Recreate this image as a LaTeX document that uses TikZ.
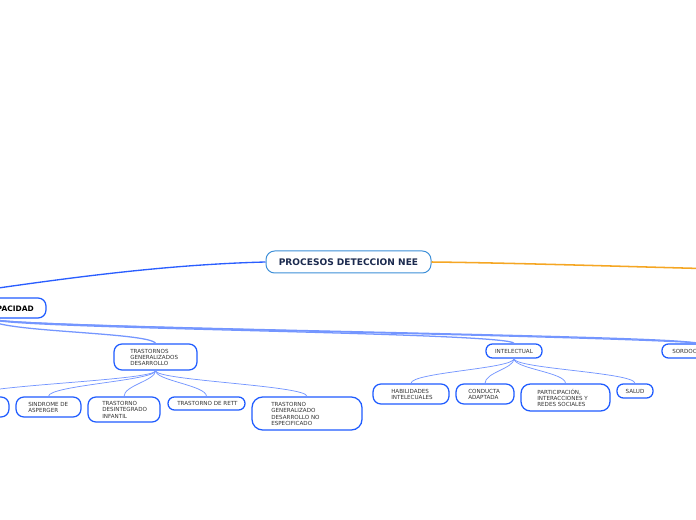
\documentclass[tikz,border=0pt]{standalone}
\usepackage{fontspec}
\setmainfont{DejaVu Sans}
\definecolor{boxblue}{HTML}{1F5CFF}
\definecolor{mainblue}{HTML}{3D8FD8}
\definecolor{linkblue}{HTML}{2A5EFF}
\definecolor{sublink}{HTML}{7496FF}
\definecolor{orangeln}{HTML}{F5A623}
\definecolor{txt}{HTML}{333333}
\definecolor{maintxt}{HTML}{1B2A4E}
\newcommand\pxu{0.75pt}
\begin{document}
\begin{tikzpicture}[x=0.75pt,y=-0.75pt,
  box/.style={draw=boxblue, line width=0.95pt, rounded corners=6pt, fill=white, inner sep=0pt},
  boxs/.style={box, rounded corners=4.8pt},
  mainbox/.style={draw=mainblue, line width=0.75pt, rounded corners=6.5pt, fill=white, inner sep=0pt},
  lbl/.style={inner sep=0pt, align=left, text=txt, font=\fontsize{4.2pt}{4.75pt}\selectfont},
  mainlbl/.style={inner sep=0pt, text=maintxt, font=\fontsize{6.8pt}{8pt}\selectfont\bfseries},
  disclbl/.style={inner sep=0pt, text=black, font=\fontsize{5.6pt}{7pt}\selectfont\bfseries},
  toplink/.style={draw=linkblue, line width=1pt},
  dlink/.style={draw=sublink, line width=0.95pt},
  slink/.style={draw=sublink, line width=0.55pt}]
\useasboundingbox (0,0) rectangle (696,520);
\clip (0,0) rectangle (696,520);
\fill[white] (0,0) rectangle (696,520);

% connector free ends
\coordinate (offr) at (730,346);
\coordinate (offo) at (720,269);

% nodes
\node[mainbox, minimum width=165*\pxu, minimum height=22*\pxu] (main) at (348.5,262) {};
\node[box, minimum width=112*\pxu, minimum height=20*\pxu] (disc) at (-10,308) {};
\node[box, minimum width=83*\pxu, minimum height=26*\pxu] (tgd) at (155.5,357) {};
\node[boxs, minimum width=56*\pxu, minimum height=14*\pxu] (intel) at (514,351) {};
\node[boxs, minimum width=66*\pxu, minimum height=14*\pxu] (sordo) at (695,351) {};
\node[box, minimum width=78*\pxu, minimum height=20*\pxu] (offl) at (-30,407) {};
\node[box, minimum width=65*\pxu, minimum height=20*\pxu] (asp) at (48.5,407) {};
\node[box, minimum width=72*\pxu, minimum height=25*\pxu] (tdi) at (124,409.5) {};
\node[boxs, minimum width=77*\pxu, minimum height=13*\pxu] (rett) at (206.5,403.5) {};
\node[box, rounded corners=8pt, minimum width=110*\pxu, minimum height=33*\pxu] (tgdne) at (307,413.5) {};
\node[box, minimum width=76*\pxu, minimum height=20*\pxu] (hab) at (411,394) {};
\node[box, minimum width=58*\pxu, minimum height=20*\pxu] (cond) at (485,394) {};
\node[box, rounded corners=7pt, minimum width=89*\pxu, minimum height=27*\pxu] (part) at (565.5,397.5) {};
\node[boxs, minimum width=36*\pxu, minimum height=14*\pxu] (salud) at (635,391) {};

% connectors
\draw[draw=orangeln, line width=1.15pt] (main.east) .. controls (520,263) and (640,267) .. (offo);
\draw[toplink] (main.west) .. controls (150,265) and (40,282) .. (disc.north west);

\draw[dlink] (disc.south) .. controls (-10,332) and (150,332) .. (tgd.north);
\draw[dlink] (disc.south) .. controls (-10,329) and (510,332) .. (intel.north);
\draw[dlink] (disc.south) .. controls (-10,328) and (690,335) .. (sordo.north);
\draw[dlink] (disc.south) .. controls (-10,328) and (700,336) .. (offr);

\foreach \c in {offl,asp,tdi,rett,tgdne}
  \draw[slink] (tgd.south) .. controls +(0,10) and +(0,-11) .. (\c.north);
\foreach \c in {hab,cond,part,salud}
  \draw[slink] (intel.south) .. controls +(0,10) and +(0,-11) .. (\c.north);

% texts
\node[mainlbl] (mainT) at (348.5,262.5) {PROCESOS DETECCION NEE};
\node[disclbl, anchor=east] (discT) at (34,308.5) {DISCAPACIDAD};
\node[lbl, anchor=west] (tgdT) at (130,357.5) {TRASTORNOS\\GENERALIZADOS\\DESARROLLO};
\node[lbl] (intelT) at (514,351.3) {INTELECTUAL};
\node[lbl, anchor=west] (sordoT) at (672,351.3) {SORDOCEGUERA};
\node[lbl, anchor=west] (aspT) at (28,407.3) {SINDROME DE\\ASPERGER};
\node[lbl, anchor=west] (tdiT) at (102,409.8) {TRASTORNO\\DESINTEGRADO\\INFANTIL};
\node[lbl, anchor=west] (rettT) at (177,403.8) {TRASTORNO DE RETT};
\node[lbl, anchor=west] (tgdneT) at (271,413.8) {TRASTORNO\\GENERALIZADO\\DESARROLLO NO\\ESPECIFICADO};
\node[lbl, anchor=west] (habT) at (391,394.3) {HABILIDADES\\INTELECUALES};
\node[lbl, anchor=west] (condT) at (468,394.3) {CONDUCTA\\ADAPTADA};
\node[lbl, anchor=west] (partT) at (537,397.8) {PARTICIPACIÓN,\\INTERACCIONES Y\\REDES SOCIALES};
\node[lbl] (saludT) at (635,391.3) {SALUD};
\end{tikzpicture}
\end{document}
